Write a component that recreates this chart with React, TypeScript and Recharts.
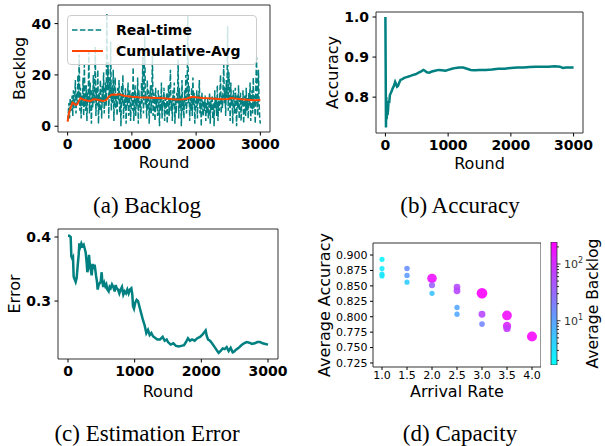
import React from 'react';
import {
  Bar,
  BarChart,
  Cell,
  Label,
  Legend,
  Line,
  LineChart,
  ReferenceArea,
  Scatter,
  ScatterChart,
  XAxis,
  YAxis,
  ZAxis,
} from 'recharts';

const TEAL = '#008080';
const ORANGE = '#ff4500';
const FONT = '"DejaVu Sans", sans-serif';
const SERIF = '"Liberation Serif", "Times New Roman", serif';

// (a) backlog, real-time sampled every 10 rounds
const roundStep = 10;
const realTimeBacklog = [
  2, 5, 9, 3, 11, 6, 8, 12, 4, 14, 7, 10, 18, 5, 13, 9, 20, 11, 28, 6,
  15, 3, 12, 8, 19, 4, 24, 10, 6, 16, 2, 13, 9, 29, 5, 17, 11, 1, 14, 7,
  20, 9, 12, 31, 4, 15, 8, 22, 1, 13, 6, 18, 10, 3, 16, 9, 21, 5, 12, 17,
  8, 44, 14, 25, 3, 19, 11, 33, 6, 16, 9, 22, 2, 14, 19, 7, 12, 4, 15, 10,
  18, 5, 13, 0, 16, 9, 20, 3, 11, 7, 15, 1, 12, 8, 17, 4, 10, 14, 2, 9,
  13, 6, 23, 2, 11, 16, 4, 12, 8, 19, 1, 14, 7, 10, 3, 17, 9, 27, 5, 15,
  35, 8, 12, 3, 18, 6, 14, 1, 10, 16, 5, 11, 28, 4, 13, 9, 2, 15, 7, 11,
  4, 14, 9, 0, 12, 6, 17, 3, 10, 8, 15, 2, 11, 5, 13, 1, 9, 16, 4, 12,
  22, 6, 10, 2, 14, 8, 17, 1, 11, 5, 13, 9, 26, 3, 15, 7, 12, 0, 18, 6,
  10, 3, 14, 8, 20, 5, 12, 43, 9, 16, 2, 11, 6, 15, 4, 19, 8, 13, 1, 10,
  7, 14, 3, 12, 9, 18, 5, 11, 0, 13, 8, 4, 10, 6, 12, 2, 9, 5, 11, 3,
  8, 13, 1, 10, 6, 12, 3, 9, 0, 14, 7, 11, 4, 16, 2, 10, 6, 13, 20, 5,
  12, 7, 16, 24, 9, 15, 4, 18, 11, 39, 6, 21, 13, 2, 17, 8, 12, 1, 14, 10,
  5, 15, 9, 0, 12, 7, 16, 3, 10, 13, 2, 11, 8, 14, 1, 9, 12, 4, 15, 6,
  11, 3, 13, 8, 17, 2, 10, 14, 5, 19, 7, 12, 1, 16, 27, 9, 4, 22, 10, 3,
  1,
];
const avgRounds = [
  0, 15, 30, 50, 75, 100, 125, 150, 175, 200, 230, 260, 300, 350, 400, 450, 500, 550, 600, 640,
  680, 720, 760, 800, 850, 900, 1000, 1100, 1200, 1300, 1400, 1500, 1600, 1700, 1800, 1850, 1900,
  1950, 2000, 2100, 2200, 2300, 2400, 2500, 2550, 2600, 2700, 2800, 2900, 3000,
];
const avgBacklog = [
  1.8, 4.5, 6, 7.5, 9.2, 8.8, 8.3, 8.6, 9.8, 11, 10.6, 10.2, 10, 9.8, 10.5, 10.4, 10.1, 9.8, 10.2, 11.5,
  12.3, 12.4, 12.3, 12.5, 12.1, 11.8, 11.5, 11.3, 11.2, 11.1, 11, 10.9, 10.6, 10.4, 10.5, 10.7, 11.2,
  11.5, 11.3, 11, 10.9, 10.7, 10.5, 10.6, 11, 10.8, 10.5, 10.3, 10.1, 10.2,
];

// (b) accuracy
const accRounds = [
  0, 4, 9, 14, 20, 27, 34, 42, 50, 60, 72, 85, 100, 116, 135, 155, 170, 185, 200, 220, 240, 270,
  300, 340, 380, 430, 480, 530, 570, 605, 630, 660, 700, 740, 790, 850, 900, 960, 1000, 1060, 1120,
  1180, 1240, 1300, 1360, 1420, 1500, 1600, 1700, 1800, 1900, 2000, 2100, 2200, 2300, 2400, 2500,
  2600, 2700, 2780, 2830, 2880, 2940, 3000,
];
const accValues = [
  1.0, 0.88, 0.724, 0.8, 0.745, 0.775, 0.755, 0.768, 0.79, 0.785, 0.805, 0.81, 0.815, 0.822, 0.828,
  0.838, 0.832, 0.826, 0.828, 0.836, 0.843, 0.845, 0.848, 0.85, 0.852, 0.855, 0.857, 0.861, 0.864,
  0.868, 0.866, 0.862, 0.861, 0.864, 0.866, 0.868, 0.867, 0.866, 0.868, 0.871, 0.873, 0.874, 0.874,
  0.871, 0.868, 0.867, 0.868, 0.868, 0.869, 0.871, 0.871, 0.873, 0.874, 0.874, 0.875, 0.876, 0.876,
  0.876, 0.877, 0.876, 0.873, 0.874, 0.874, 0.874,
];

// (c) estimation error
const errRounds = [
  0, 20, 40, 50, 65, 75, 85, 100, 115, 130, 145, 160, 170, 185, 200, 215, 235, 250, 265, 280, 290,
  300, 315, 325, 340, 355, 370, 385, 400, 420, 435, 445, 460, 475, 490, 505, 515, 530, 545, 560,
  575, 590, 610, 625, 640, 660, 680, 700, 715, 730, 750, 770, 790, 810, 830, 850, 870, 890, 910,
  930, 950, 965, 975, 990, 1010, 1030, 1050, 1075, 1100, 1125, 1150, 1175, 1200, 1225, 1250, 1275,
  1300, 1340, 1380, 1420, 1450, 1480, 1500, 1540, 1580, 1620, 1660, 1700, 1740, 1770, 1800, 1830,
  1860, 1900, 1940, 1980, 2020, 2050, 2065, 2080, 2100, 2130, 2160, 2200, 2240, 2260, 2290, 2320,
  2350, 2380, 2410, 2440, 2470, 2490, 2520, 2560, 2600, 2640, 2680, 2720, 2760, 2800, 2840, 2880,
  2920, 2960, 3000,
];
const errValues = [
  0.402, 0.402, 0.4, 0.37, 0.366, 0.368, 0.338, 0.334, 0.33, 0.336, 0.355, 0.372, 0.39, 0.385, 0.39,
  0.386, 0.388, 0.382, 0.376, 0.36, 0.345, 0.35, 0.372, 0.36, 0.35, 0.34, 0.358, 0.35, 0.357, 0.34,
  0.33, 0.318, 0.325, 0.328, 0.33, 0.345, 0.33, 0.322, 0.328, 0.323, 0.326, 0.318, 0.315, 0.322,
  0.32, 0.326, 0.322, 0.315, 0.325, 0.32, 0.318, 0.312, 0.318, 0.322, 0.31, 0.315, 0.312, 0.318,
  0.312, 0.318, 0.32, 0.31, 0.292, 0.288, 0.298, 0.302, 0.3, 0.29, 0.28, 0.27, 0.262, 0.25, 0.255,
  0.247, 0.25, 0.245, 0.243, 0.24, 0.24, 0.244, 0.238, 0.24, 0.236, 0.232, 0.234, 0.23, 0.229, 0.23,
  0.231, 0.236, 0.242, 0.238, 0.24, 0.238, 0.242, 0.244, 0.248, 0.252, 0.254, 0.246, 0.24, 0.238,
  0.234, 0.228, 0.222, 0.219, 0.222, 0.226, 0.225, 0.228, 0.222, 0.227, 0.22, 0.221, 0.224, 0.227,
  0.231, 0.234, 0.236, 0.235, 0.233, 0.234, 0.236, 0.236, 0.234, 0.233, 0.232,
];

// (d) capacity
const arrivalRates = [1.0, 1.0, 1.0, 1.0, 1.5, 1.5, 1.5, 2.0, 2.0, 2.0, 2.5, 2.5, 2.5, 2.5, 3.0, 3.0, 3.0, 3.5, 3.5, 3.5, 4.0];
const capAccuracy = [
  0.893, 0.878, 0.869, 0.866, 0.878, 0.867, 0.856, 0.862, 0.851, 0.838, 0.848, 0.842, 0.815, 0.804,
  0.838, 0.804, 0.788, 0.802, 0.785, 0.781, 0.768,
];
const capBacklog = [2.1, 2.4, 2.8, 2.6, 14, 11, 4.5, 180, 33, 5.5, 55, 60, 9, 9, 240, 60, 17, 190, 120, 75, 210];

const roundTicks = [0, 1000, 2000, 3000];
const backlogTicks = [0, 20, 40];
const accTicks = [0.8, 0.9, 1.0];
const errTicks = [0.3, 0.4];
const rateTicks = [1.0, 1.5, 2.0, 2.5, 3.0, 3.5, 4.0];
const capAccTicks = [0.725, 0.75, 0.775, 0.8, 0.825, 0.85, 0.875, 0.9];
const cbMajorTicks = [10, 100];
const cbMinorTicks = [2, 3, 4, 5, 6, 7, 8, 9, 20, 30, 40, 50, 60, 70, 80, 90, 200];
const cbMin = 1.66;
const cbMax = 244;

const captions = ['(a) Backlog', '(b) Accuracy', '(c) Estimation Error', '(d) Capacity'];
const legendNames = ['Real-time', 'Cumulative-Avg'];

const realTimeData = realTimeBacklog.map((v, i) => ({ round: i * roundStep, value: v }));
const avgData = avgRounds.map((r, i) => ({ round: r, value: avgBacklog[i] }));
const accData = accRounds.map((r, i) => ({ round: r, value: accValues[i] }));
const errData = errRounds.map((r, i) => ({ round: r, value: errValues[i] }));
const capData = arrivalRates.map((x, i) => ({ rate: x, acc: capAccuracy[i], backlog: capBacklog[i] }));
const cbData = [{ k: 'cb', span: [cbMin, cbMax] }];

function coolColor(b: number) {
  const lo = Math.log10(cbMin);
  const hi = Math.log10(cbMax);
  const t = Math.min(1, Math.max(0, (Math.log10(b) - lo) / (hi - lo)));
  return `rgb(${Math.round(255 * t)}, ${Math.round(255 * (1 - t))}, 255)`;
}

const boldTick = { fontSize: 14, fontWeight: 700, fill: '#000', fontFamily: FONT };
const smallTick = { fontSize: 11, fill: '#000', fontFamily: FONT };

const frame = (xd: number[], yd: number[]) => (
  <ReferenceArea x1={xd[0]} x2={xd[1]} y1={yd[0]} y2={yd[1]} fill="none" stroke="#333" strokeWidth={1} ifOverflow="visible" />
);

const yLabel = (text: string, bx: number, size = 16) => (
  <Label
    content={(p: any) => {
      const vb = p.viewBox || { y: 0, height: 0 };
      const cy = vb.y + vb.height / 2;
      return (
        <text transform={`translate(${bx},${cy}) rotate(-90)`} textAnchor="middle" fontSize={size} fontFamily={FONT} fill="#000">
          {text}
        </text>
      );
    }}
  />
);

const xLabel = (text: string, by: number) => (
  <Label
    content={(p: any) => {
      const vb = p.viewBox || { x: 0, width: 0 };
      return (
        <text x={vb.x + vb.width / 2} y={by} textAnchor="middle" fontSize={16} fontFamily={FONT} fill="#000">
          {text}
        </text>
      );
    }}
  />
);

function BacklogLegend() {
  return (
    <div
      style={{
        boxSizing: 'border-box',
        width: 190,
        height: 50,
        border: '1px solid #cccccc',
        borderRadius: 4,
        background: 'rgba(255,255,255,0.8)',
        paddingTop: 3,
        paddingLeft: 4,
        fontFamily: FONT,
        fontWeight: 700,
        fontSize: 14,
      }}
    >
      {legendNames.map((name, i) => (
        <div key={name} style={{ height: 21, display: 'flex', alignItems: 'center' }}>
          <svg width={31} height={8} style={{ marginRight: 13 }}>
            <line
              x1={0}
              x2={31}
              y1={4}
              y2={4}
              stroke={i === 0 ? TEAL : ORANGE}
              strokeWidth={i === 0 ? 1.5 : 2}
              strokeDasharray={i === 0 ? '5.5 2.4' : undefined}
            />
          </svg>
          <span>{name}</span>
        </div>
      ))}
    </div>
  );
}

function ColorbarTick(p: any) {
  const v = p.payload.value;
  const major = cbMajorTicks.includes(v);
  return (
    <g>
      <line x1={p.x} x2={p.x + (major ? 3.5 : 2)} y1={p.y} y2={p.y} stroke="#000" strokeWidth={0.8} />
      {major && (
        <text x={p.x + 7} y={p.y} dy="0.35em" fontSize={11} fontFamily={FONT} fill="#333">
          10
          <tspan dy={-5} fontSize={8}>
            {Math.round(Math.log10(v))}
          </tspan>
        </text>
      )}
    </g>
  );
}

const roundDomain = [-150, 3150];
const backlogDomain = [-2.25, 47.25];
const accDomain = [0.7105, 1.0125];
const errDomain = [0.2095, 0.4125];
const rateDomain = [0.82, 4.18];
const capDomain = [0.7185, 0.9195];

export default function App() {
  return (
    <div style={{ position: 'absolute', left: 0, top: 0, width: 605, height: 446, background: '#fff' }}>
      <div style={{ position: 'absolute', left: 0, top: 0 }}>
        <LineChart width={280} height={180} margin={{ top: 5, right: 10, left: 0, bottom: 0 }}>
          <XAxis type="number" dataKey="round" domain={roundDomain} ticks={roundTicks} allowDataOverflow height={48}
            tickSize={3.5} tickMargin={4} axisLine={false} tick={boldTick} tickLine={{ stroke: '#000' }} interval={0}>
            {xLabel('Round', 168)}
          </XAxis>
          <YAxis type="number" domain={backlogDomain} ticks={backlogTicks} allowDataOverflow width={58}
            tickSize={3.5} tickMargin={3.5} axisLine={false} tick={boldTick} tickLine={{ stroke: '#000' }} interval={0}>
            {yLabel('Backlog', 24.5)}
          </YAxis>
          {frame(roundDomain, backlogDomain)}
          <Line data={realTimeData} dataKey="value" type="linear" stroke={TEAL} strokeWidth={1.5}
            strokeDasharray="5.5 2.4" dot={false} activeDot={false} isAnimationActive={false} />
          <Line data={avgData} dataKey="value" type="linear" stroke={ORANGE} strokeWidth={2}
            dot={false} activeDot={false} isAnimationActive={false} />
          <Legend layout="horizontal" verticalAlign="middle" align="center"
            wrapperStyle={{ left: 67, top: 15, width: 190, height: 50 }} content={() => <BacklogLegend />} />
        </LineChart>
      </div>

      <div style={{ position: 'absolute', left: 300, top: 0 }}>
        <LineChart width={305} height={180} margin={{ top: 12, right: 22, left: 0, bottom: 0 }}>
          <XAxis type="number" dataKey="round" domain={roundDomain} ticks={roundTicks} allowDataOverflow height={47}
            tickSize={3.5} tickMargin={4} axisLine={false} tick={boldTick} tickLine={{ stroke: '#000' }} interval={0}>
            {xLabel('Round', 169)}
          </XAxis>
          <YAxis type="number" domain={accDomain} ticks={accTicks} allowDataOverflow width={76}
            tickSize={3.5} tickMargin={3.5} axisLine={false} tick={boldTick} tickLine={{ stroke: '#000' }} interval={0}
            tickFormatter={(v: number) => v.toFixed(1)}>
            {yLabel('Accuracy', 38)}
          </YAxis>
          {frame(roundDomain, accDomain)}
          <Line data={accData} dataKey="value" type="linear" stroke={TEAL} strokeWidth={2.5}
            dot={false} activeDot={false} isAnimationActive={false} />
        </LineChart>
      </div>

      <div style={{ position: 'absolute', left: 0, top: 220 }}>
        <LineChart width={290} height={180} margin={{ top: 9, right: 12, left: 0, bottom: 0 }}>
          <XAxis type="number" dataKey="round" domain={roundDomain} ticks={roundTicks} allowDataOverflow height={41}
            tickSize={3.5} tickMargin={4} axisLine={false} tick={boldTick} tickLine={{ stroke: '#000' }} interval={0}>
            {xLabel('Round', 176.5)}
          </XAxis>
          <YAxis type="number" domain={errDomain} ticks={errTicks} allowDataOverflow width={58}
            tickSize={3.5} tickMargin={3.5} axisLine={false} tick={boldTick} tickLine={{ stroke: '#000' }} interval={0}
            tickFormatter={(v: number) => v.toFixed(1)}>
            {yLabel('Error', 20)}
          </YAxis>
          {frame(roundDomain, errDomain)}
          <Line data={errData} dataKey="value" type="linear" stroke={TEAL} strokeWidth={2.5}
            dot={false} activeDot={false} isAnimationActive={false} />
        </LineChart>
      </div>

      <div style={{ position: 'absolute', left: 300, top: 220 }}>
        <ScatterChart width={241} height={180} margin={{ top: 23, right: 0, left: 0, bottom: 0 }}>
          <XAxis type="number" dataKey="rate" domain={rateDomain} ticks={rateTicks} allowDataOverflow height={33}
            tickSize={3} tickMargin={1} axisLine={false} tick={smallTick} tickLine={{ stroke: '#000' }} interval={0}
            tickFormatter={(v: number) => v.toFixed(1)}>
            {xLabel('Arrival Rate', 176.5)}
          </XAxis>
          <YAxis type="number" dataKey="acc" domain={capDomain} ticks={capAccTicks} allowDataOverflow width={73}
            tickSize={3} tickMargin={2.5} axisLine={false} tick={smallTick} tickLine={{ stroke: '#000' }} interval={0}
            tickFormatter={(v: number) => v.toFixed(3)}>
            {yLabel('Average Accuracy', 29.5)}
          </YAxis>
          <ZAxis type="number" dataKey="backlog" domain={[0, 250]} range={[20, 92]} />
          {frame(rateDomain, capDomain)}
          <Scatter data={capData} isAnimationActive={false} fillOpacity={0.9}>
            {capData.map((d, i) => (
              <Cell key={i} fill={coolColor(d.backlog)} />
            ))}
          </Scatter>
        </ScatterChart>
      </div>

      <div style={{ position: 'absolute', left: 541, top: 235 }}>
        <BarChart width={64} height={140} data={cbData} margin={{ top: 7, right: 0, left: 10, bottom: 10 }} barCategoryGap={0}>
          <defs>
            <linearGradient id="coolGrad" x1="0" y1="1" x2="0" y2="0">
              <stop offset="0%" stopColor="#00ffff" />
              <stop offset="100%" stopColor="#ff00ff" />
            </linearGradient>
          </defs>
          <XAxis type="category" dataKey="k" hide />
          <YAxis type="number" scale="log" orientation="right" domain={[cbMin, cbMax]} allowDataOverflow width={48}
            ticks={[...cbMinorTicks, ...cbMajorTicks]} tickSize={0} tickMargin={0} axisLine={false}
            tickLine={false} tick={<ColorbarTick />} interval={0}>
            {yLabel('Average Backlog', 57, 15.5)}
          </YAxis>
          <Bar dataKey="span" fill="url(#coolGrad)" stroke="#333" strokeWidth={0.8} isAnimationActive={false} />
        </BarChart>
      </div>

      <svg width={605} height={446} style={{ position: 'absolute', left: 0, top: 0, pointerEvents: 'none' }}>
        {captions.map((c, i) => (
          <text key={c} x={i % 2 === 0 ? 147 : 460} y={i < 2 ? 213 : 441} textAnchor="middle"
            fontSize={23} fontFamily={SERIF} fill="#000">
            {c}
          </text>
        ))}
      </svg>
    </div>
  );
}
